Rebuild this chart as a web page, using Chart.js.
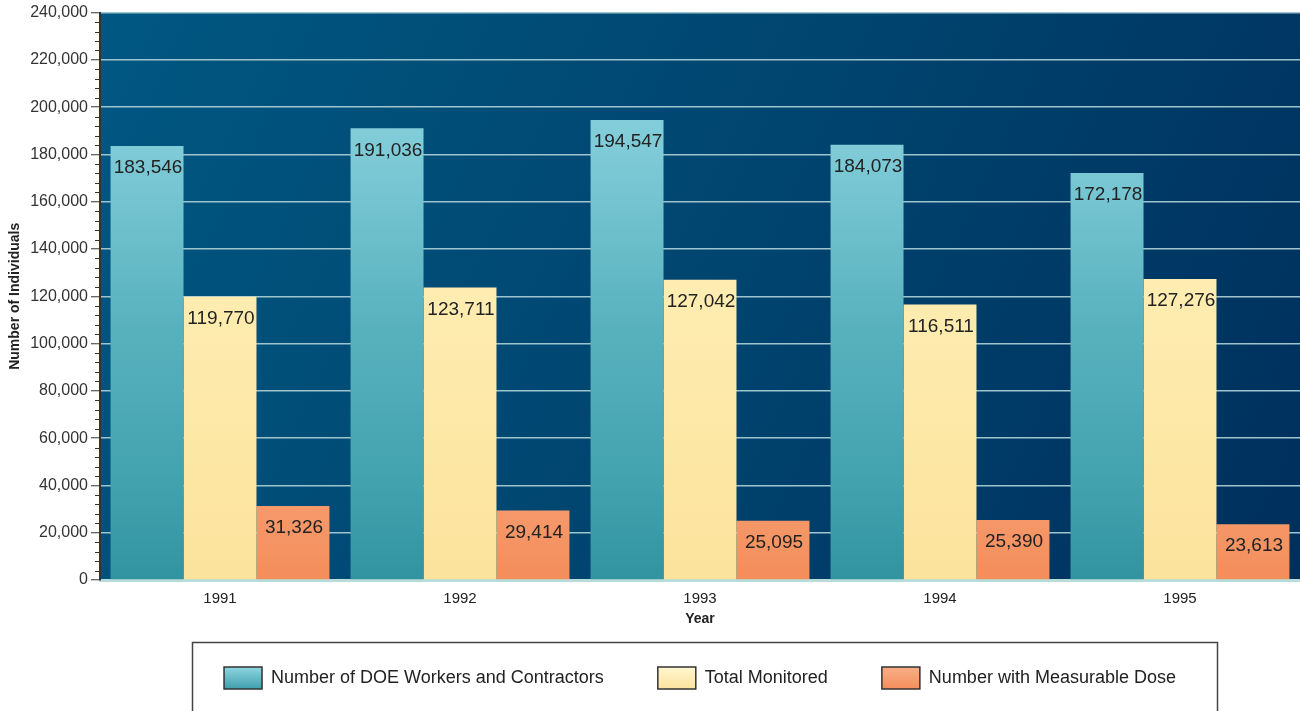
<!DOCTYPE html>
<html>
<head>
<meta charset="utf-8">
<script src="https://cdn.jsdelivr.net/npm/chart.js@4.4.1/dist/chart.umd.min.js"></script>
<style>
  html, body { margin: 0; padding: 0; background: #ffffff; }
  #wrap { width: 1300px; height: 711px; position: relative; }
</style>
</head>
<body>
<div id="wrap"><canvas id="c" width="1300" height="711"></canvas></div>
<script>
// ---- data ----
const years = ['1991', '1992', '1993', '1994', '1995'];
const doeWorkers = [183546, 191036, 194547, 184073, 172178];
const totalMonitored = [119770, 123711, 127042, 116511, 127276];
const measurableDose = [31326, 29414, 25095, 25390, 23613];
const seriesNames = ['Number of DOE Workers and Contractors', 'Total Monitored', 'Number with Measurable Dose'];
const yMin = 0, yMax = 240000, yStep = 20000, yMinorStep = 4000;
const xTitle = 'Year';
const yTitle = 'Number of Individuals';

const FONT = "'Liberation Sans', Arial, Helvetica, sans-serif";
const swatchColors = ['#5fbcc8', '#fde9a8', '#f59c70'];
const swatchStops = [
  [[0, '#8fd6e2'], [1, '#3e9fab']],
  [[0, '#fff6cf'], [1, '#fde39e']],
  [[0, '#f8ae88'], [1, '#f48f5c']]
];

const gradCache = {};
function vGrad(chart, key, stops) {
  const ca = chart.chartArea;
  if (!ca) return null;
  const k = key + ca.top + '_' + ca.bottom;
  if (gradCache[k]) return gradCache[k];
  const g = chart.ctx.createLinearGradient(0, ca.top, 0, ca.bottom);
  stops.forEach(s => g.addColorStop(s[0], s[1]));
  gradCache[k] = g;
  return g;
}

const blueFill = (ctx) => vGrad(ctx.chart, 'b', [[0, '#93d8e4'], [0.25, '#7ecad7'], [0.55, '#58b2be'], [0.85, '#40a1ad'], [1, '#3394a1']]) || swatchColors[0];
const yellowFill = (ctx) => vGrad(ctx.chart, 'y', [[0, '#fff6cc'], [0.5, '#feecb0'], [1, '#fce39c']]) || swatchColors[1];
const orangeFill = (ctx) => vGrad(ctx.chart, 'o', [[0.7, '#f7a880'], [1, '#f48e5b']]) || swatchColors[2];

function swatchFill(chart, i) {
  const g = chart.ctx.createLinearGradient(0, 667, 0, 689);
  swatchStops[i].forEach(s => g.addColorStop(s[0], s[1]));
  return g;
}

const bgPlugin = {
  id: 'bgPlugin',
  beforeDraw(chart) {
    const {ctx, chartArea: a} = chart;
    const g = ctx.createLinearGradient(a.left, a.top, a.right, a.bottom);
    g.addColorStop(0, '#005882');
    g.addColorStop(0.5, '#004570');
    g.addColorStop(1, '#002f5c');
    ctx.save();
    ctx.fillStyle = g;
    ctx.fillRect(a.left, a.top, a.right - a.left, a.bottom - a.top);
    ctx.restore();
  }
};

const minorTicks = {
  id: 'minorTicks',
  afterDraw(chart) {
    const y = chart.scales.y;
    const ctx = chart.ctx;
    const x0 = chart.chartArea.left;
    ctx.save();
    ctx.strokeStyle = '#333333';
    ctx.lineWidth = 1;
    for (let v = yMin; v <= yMax; v += yMinorStep) {
      if (v % yStep === 0) continue;
      const py = Math.round(y.getPixelForValue(v)) + 0.5;
      ctx.beginPath();
      ctx.moveTo(x0 - 5, py);
      ctx.lineTo(x0, py);
      ctx.stroke();
    }
    ctx.restore();
  }
};

const valueLabels = {
  id: 'valueLabels',
  afterDatasetsDraw(chart) {
    const ctx = chart.ctx;
    ctx.save();
    ctx.font = '19px ' + FONT;
    ctx.fillStyle = '#222222';
    ctx.textAlign = 'center';
    ctx.textBaseline = 'middle';
    chart.data.datasets.forEach((ds, di) => {
      const meta = chart.getDatasetMeta(di);
      meta.data.forEach((el, i) => {
        ctx.fillText(ds.data[i].toLocaleString('en-US'), el.x + 1, el.y + 22);
      });
    });
    ctx.restore();
  }
};

const legendFrame = {
  id: 'legendFrame',
  afterDraw(chart) {
    const ctx = chart.ctx;
    ctx.save();
    ctx.strokeStyle = '#444444';
    ctx.lineWidth = 1.5;
    ctx.strokeRect(192.5, 642.5, 1025, 100);
    ctx.restore();
  }
};

new Chart(document.getElementById('c'), {
  type: 'bar',
  data: {
    labels: years,
    datasets: [
      { label: seriesNames[0], data: doeWorkers, backgroundColor: blueFill },
      { label: seriesNames[1], data: totalMonitored, backgroundColor: yellowFill },
      { label: seriesNames[2], data: measurableDose, backgroundColor: orangeFill }
    ]
  },
  options: {
    responsive: false,
    animation: false,
    devicePixelRatio: 1,
    layout: { padding: { top: 11, right: 0, bottom: 12, left: 0 } },
    datasets: { bar: { categoryPercentage: 0.912, barPercentage: 1.0, borderWidth: 0 } },
    scales: {
      x: {
        grid: { display: false },
        border: { display: true, color: '#b8dcdc', width: 3 },
        ticks: { font: { size: 15, family: FONT }, color: '#222222', padding: 2 },
        title: { display: true, text: xTitle, font: { size: 14, weight: 'bold', family: FONT }, color: '#222222', padding: { top: 0, bottom: -15 } },
        afterFit(scale) { scale.height = 33; }
      },
      y: {
        min: yMin, max: yMax,
        ticks: {
          stepSize: yStep,
          font: { size: 16, family: FONT },
          color: '#333333',
          padding: 3,
          callback: (v) => Number(v).toLocaleString('en-US')
        },
        grid: { color: '#9ec4cd', lineWidth: 1.5, tickColor: '#333333', tickLength: 9, tickWidth: 1 },
        border: { display: true, color: '#333333', width: 2 },
        title: { display: true, text: yTitle, font: { size: 14, weight: 'bold', family: FONT }, color: '#222222', padding: { top: 7, bottom: 0 } },
        afterFit(scale) { scale.width = 100; }
      }
    },
    plugins: {
      legend: {
        position: 'bottom',
        fullSize: false,
        labels: {
          font: { size: 18, family: FONT },
          color: '#222222',
          boxWidth: 38,
          boxHeight: 22,
          padding: 54,
          generateLabels: (chart) => chart.data.datasets.map((ds, i) => ({
            text: ds.label,
            fillStyle: swatchFill(chart, i),
            strokeStyle: '#333333',
            lineWidth: 1.5,
            fontColor: '#222222',
            hidden: false,
            datasetIndex: i
          }))
        }
      },
      tooltip: { enabled: false }
    }
  },
  plugins: [bgPlugin, minorTicks, valueLabels, legendFrame]
});
</script>
</body>
</html>
